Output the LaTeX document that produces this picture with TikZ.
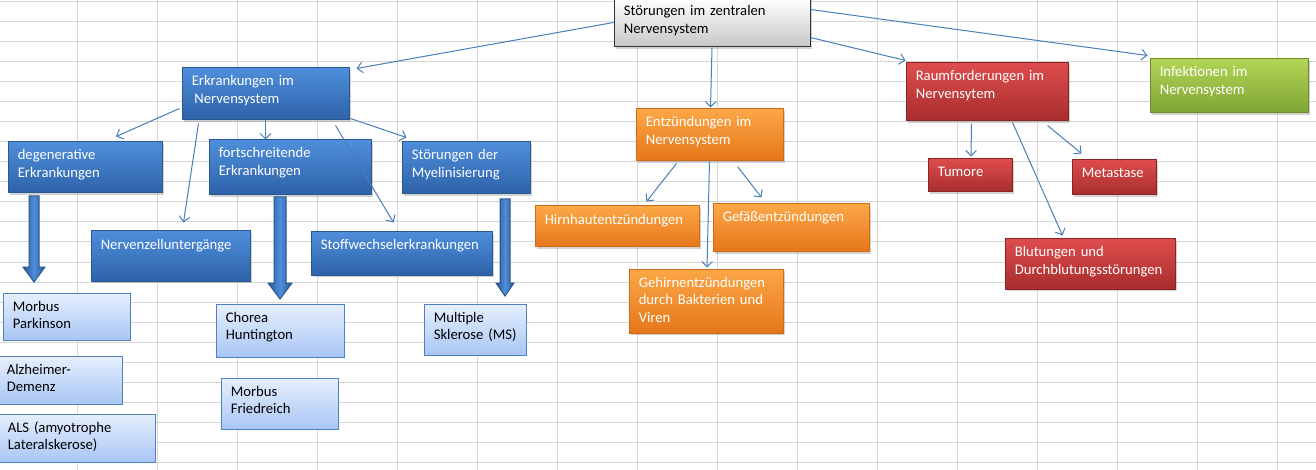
\documentclass[tikz,border=0pt]{standalone}
\usepackage{fontspec}
\setmainfont{Carlito}
\usetikzlibrary{arrows.meta, fit, shadows}

\definecolor{gridgray}{HTML}{D6D6D6}
\definecolor{linkblue}{HTML}{4A7EBB}
\definecolor{bluetop}{HTML}{4F8EDB}
\definecolor{bluebot}{HTML}{2D62A8}
\definecolor{blueedge}{HTML}{2A5891}
\definecolor{lighttop}{HTML}{E6EFFD}
\definecolor{lightbot}{HTML}{A9C6F5}
\definecolor{lightedge}{HTML}{4F81BD}
\definecolor{orangetop}{HTML}{FCA746}
\definecolor{orangebot}{HTML}{E5761B}
\definecolor{orangeedge}{HTML}{D06A14}
\definecolor{redtop}{HTML}{DE4C4C}
\definecolor{redbot}{HTML}{A82D2D}
\definecolor{rededge}{HTML}{8A2424}
\definecolor{greentop}{HTML}{B2D556}
\definecolor{greenbot}{HTML}{7FA433}
\definecolor{greenedge}{HTML}{6C8C2B}

% box with its text: name, colour style, x1, y1, x2, y2, text
\newcommand{\ebox}[7]{%
  \node[fit={(#3,#4) (#5,#6)}, #2box] (#1) {};
  \node[txt, #2txt] (#1-t) at ([shift={(10,18.5)}]#1.north west) {#7};}

% block arrow: from, to, shaft half, head half, head length
\newcommand{\fatarrow}[5]{%
  \draw[fatarrow] ([shift={(-#3,0)}]#1) -- ([shift={(#3,0)}]#1)
    -- ([shift={(#3,-#5)}]#2) -- ([shift={(#4,-#5)}]#2) -- (#2)
    -- ([shift={(-#4,-#5)}]#2) -- ([shift={(-#3,-#5)}]#2) -- cycle;}

\begin{document}
\begin{tikzpicture}[x=0.75pt, y=-0.75pt, font=\fontsize{11}{13.2}\selectfont,
  box/.style={inner sep=0pt, line width=0.75pt},
  shade/.style={drop shadow={shadow xshift=1.2pt, shadow yshift=-1.5pt, opacity=0.35}},
  graybox/.style={box, shade, draw=black!80, top color=white, bottom color=black!22},
  bluebox/.style={box, shade, draw=blueedge, top color=bluetop, bottom color=bluebot},
  lightbox/.style={box, draw=lightedge, top color=lighttop, bottom color=lightbot},
  orangebox/.style={box, shade, draw=orangeedge, top color=orangetop, bottom color=orangebot},
  redbox/.style={box, shade, draw=rededge, top color=redtop, bottom color=redbot},
  greenbox/.style={box, shade, draw=greenedge, top color=greentop, bottom color=greenbot},
  txt/.style={anchor=base west, inner sep=0pt, text width=165pt, align=left},
  graytxt/.style={black}, bluetxt/.style={white}, lighttxt/.style={black},
  orangetxt/.style={white}, redtxt/.style={white}, greentxt/.style={white},
  conn/.style={draw=linkblue, line width=0.75pt, -{Straight Barb[length=4pt,width=8pt]}},
  fatarrow/.style={draw=blueedge, line width=0.75pt, left color=blueedge,
    right color=blueedge, middle color=bluetop},
  gridline/.style={draw=gridgray, line width=0.75pt}]

\useasboundingbox (0,0) rectangle (1316,470);
\clip (0,0) rectangle (1316,470);
\fill[white] (0,0) rectangle (1316,470);

% sheet grid
\foreach \gx in {77,157,...,1277}
  \draw[gridline] (\gx,0) -- (\gx,470);
\foreach \gy in {2,22,...,462}
  \draw[gridline] (0,\gy) -- (1316,\gy);

% top
\ebox{root}{gray}{614}{-2}{810}{47}{Störungen im zentralen\\Nervensystem}

% Erkrankungen
\ebox{erk}{blue}{182}{68}{349}{120}{Erkrankungen im\\\hspace{2pt}Nervensystem}
\ebox{deg}{blue}{8}{142}{162}{193}{degenerative\\Erkrankungen}
\ebox{fort}{blue}{209}{140}{371}{195}{fortschreitende\\Erkrankungen}
\ebox{mye}{blue}{402}{142}{530}{194}{Störungen der\\Myelinisierung}
\ebox{nerv}{blue}{91}{231}{250}{281}{Nervenzelluntergänge}
\ebox{stoff}{blue}{311}{232}{492}{275}{Stoffwechselerkrankungen}
\ebox{park}{light}{3}{293}{130}{340}{Morbus\\Parkinson}
\ebox{alz}{light}{-3}{356}{122}{404}{Alzheimer-\\Demenz}
\ebox{als}{light}{-2}{414}{155}{462}{ALS (amyotrophe\\Lateralskerose)}
\ebox{chor}{light}{216}{304}{344}{357}{Chorea\\Huntington}
\ebox{fried}{light}{221}{378}{338}{429}{Morbus\\Friedreich}
\ebox{ms}{light}{424}{304}{526}{355}{Multiple\\Sklerose (MS)}

% Entzuendungen
\ebox{ent}{orange}{636}{109}{783}{161}{Entzündungen im\\Nervensystem}
\ebox{hirn}{orange}{535}{206}{699}{247}{Hirnhautentzündungen}
\ebox{gef}{orange}{713}{204}{869}{252}{Gefäßentzündungen}
\ebox{geh}{orange}{629}{269}{783}{333}{Gehirnentzündungen\\durch Bakterien und\\Viren}

% Raumforderungen, Infektionen
\ebox{raum}{red}{906}{63}{1068}{121}{Raumforderungen im\\Nervensytem}
\ebox{tum}{red}{928}{159}{1012}{192}{Tumore}
\ebox{met}{red}{1072}{160}{1156}{195}{Metastase}
\ebox{blut}{red}{1005}{239}{1175}{289}{Blutungen und\\Durchblutungsstörungen}
\ebox{inf}{green}{1150}{59}{1308}{113}{Infektionen im\\Nervensystem}

% block arrows
\coordinate (dg1) at (34,196);  \coordinate (dg2) at (34,282);
\coordinate (fo1) at (280,197); \coordinate (fo2) at (280,299);
\coordinate (my1) at (505,199); \coordinate (my2) at (505,296);
\fatarrow{dg1}{dg2}{5}{11}{15}
\fatarrow{fo1}{fo2}{6}{12}{16}
\fatarrow{my1}{my2}{5}{9}{13}

% thin connectors
\path[every edge/.style={conn}]
  (root.west) edge ([shift={(7,1)}]erk.north east)
  (root.south) edge ([shift={(1,-1)}]ent.north)
  ([shift={(0,-10)}]root.south east) edge ([shift={(0,-2)}]raum.north west)
  ([shift={(0,12)}]root.north east) edge ([shift={(-2,-3)}]inf.north west);
\path[every edge/.style={conn}]
  ([shift={(-2,-12)}]erk.south west) edge ([shift={(31,-5)}]deg.north)
  ([shift={(17,3)}]erk.south west) edge ([shift={(93,-8)}]nerv.north west)
  ([shift={(84,0)}]erk.south west) edge ([shift={(57,0)}]fort.north west)
  ([shift={(-14,5)}]erk.south east) edge ([shift={(83,-9)}]stoff.north west)
  ([shift={(1,-2)}]erk.south east) edge ([shift={(5,-4)}]mye.north west);
\path[every edge/.style={conn}]
  ([shift={(41,2)}]ent.south west) edge ([shift={(-53,-4)}]hirn.north east)
  ([shift={(102,5)}]ent.south west) edge ([shift={(49,-6)}]gef.north west)
  (ent.south) edge ([shift={(1,-1)}]geh.north);
\path[every edge/.style={conn}]
  ([shift={(66,2)}]raum.south west) edge ([shift={(1,-2)}]tum.north)
  ([shift={(-21,4)}]raum.south east) edge ([shift={(10,-6)}]met.north west)
  ([shift={(107,1)}]raum.south west) edge ([shift={(58,-3)}]blut.north west);

\end{tikzpicture}
\end{document}
